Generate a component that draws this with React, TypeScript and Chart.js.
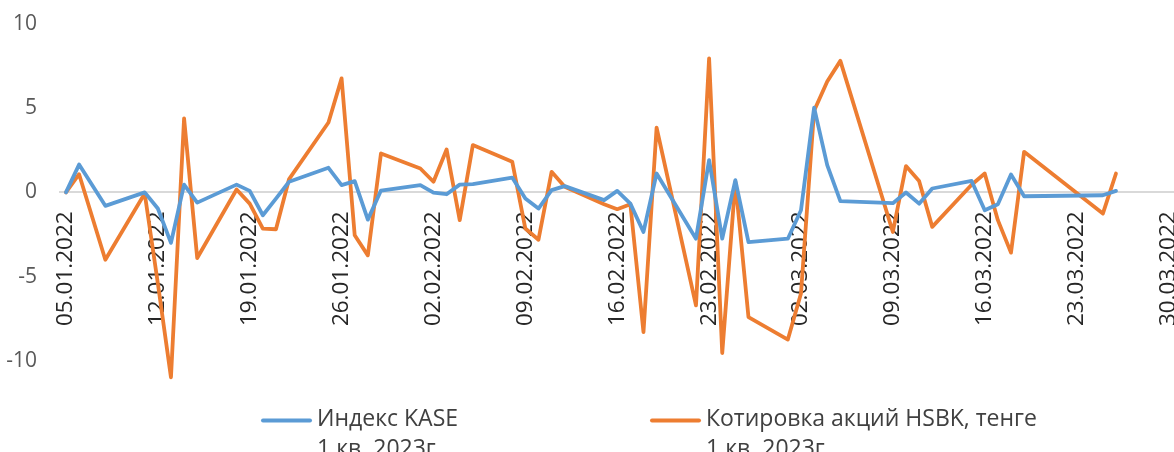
import { useEffect, useRef } from "react";
import { Chart, registerables } from "chart.js";

Chart.register(...registerables);

// Trading dates (dd.mm.yyyy as shown on the date axis)
const dates = [
  "05.01.2022", "06.01.2022", "08.01.2022", "11.01.2022", "12.01.2022", "13.01.2022",
  "14.01.2022", "15.01.2022", "18.01.2022", "19.01.2022", "20.01.2022", "21.01.2022",
  "22.01.2022", "25.01.2022", "26.01.2022", "27.01.2022", "28.01.2022", "29.01.2022",
  "01.02.2022", "02.02.2022", "03.02.2022", "04.02.2022", "05.02.2022", "08.02.2022",
  "09.02.2022", "10.02.2022", "11.02.2022", "12.02.2022", "15.02.2022", "16.02.2022",
  "17.02.2022", "18.02.2022", "19.02.2022", "22.02.2022", "23.02.2022", "24.02.2022",
  "25.02.2022", "26.02.2022", "01.03.2022", "02.03.2022", "03.03.2022", "04.03.2022",
  "05.03.2022", "09.03.2022", "10.03.2022", "11.03.2022", "12.03.2022", "15.03.2022",
  "16.03.2022", "17.03.2022", "18.03.2022", "19.03.2022", "25.03.2022", "26.03.2022",
];

// Индекс KASE, % change
const kaseValues = [
  0, 1.65, -0.8, 0, -0.96, -3.0,
  0.46, -0.61, 0.46, 0.09, -1.36, -0.37,
  0.63, 1.46, 0.43, 0.67, -1.62, 0.11,
  0.43, -0.01, -0.11, 0.46, 0.49, 0.88,
  -0.37, -0.96, 0.13, 0.37, -0.46, 0.09,
  -0.67, -2.35, 1.12, -2.75, 1.92, -2.75,
  0.73, -2.95, -2.75, -1.06, 5.03, 1.62,
  -0.52, -0.64, -0.01, -0.67, 0.23, 0.68,
  -1.06, -0.7, 1.06, -0.23, -0.17, 0.09,
];

// Котировка акций HSBK, % change
const hsbkValues = [
  0, 1.08, -4.0, -0.07, -5.4, -10.98,
  4.39, -3.9, 0.17, -0.67, -2.15, -2.19,
  0.79, 4.15, 6.77, -2.55, -3.74, 2.31,
  1.42, 0.63, 2.55, -1.65, 2.81, 1.82,
  -2.15, -2.81, 1.22, 0.33, -0.7, -1.0,
  -0.7, -8.3, 3.84, -6.71, 7.96, -9.54,
  0.63, -7.41, -8.74, -6.0, 4.85, 6.58,
  7.81, -2.35, 1.56, 0.68, -2.05, 0.45,
  1.12, -1.65, -3.58, 2.41, -1.26, 1.12,
];

const tickLabels = [
  "05.01.2022", "12.01.2022", "19.01.2022", "26.01.2022", "02.02.2022",
  "09.02.2022", "16.02.2022", "23.02.2022", "02.03.2022", "09.03.2022",
  "16.03.2022", "23.03.2022", "30.03.2022",
];

const seriesNames = [
  ["Индекс KASE", "1 кв. 2023г"],
  ["Котировка акций HSBK, тенге", "1 кв. 2023г."],
];
const seriesColors = ["#5B9BD5", "#ED7D31"];

const BASE = Date.UTC(2022, 0, 5);
function dayOffset(s: string): number {
  const [d, m, y] = s.split(".").map(Number);
  return Math.round((Date.UTC(y, m - 1, d) - BASE) / 86400000);
}

const FONT = "'Open Sans', 'DejaVu Sans', sans-serif";

const legendPlugin = {
  id: "bottomLegend",
  afterDraw(chart: any) {
    const ctx = chart.ctx as CanvasRenderingContext2D;
    const starts = [261, 650];
    ctx.save();
    chart.data.datasets.forEach((ds: any, i: number) => {
      const x0 = starts[i];
      ctx.strokeStyle = ds.borderColor;
      ctx.lineWidth = 4;
      ctx.lineCap = "round";
      ctx.beginPath();
      ctx.moveTo(x0 + 2, 420.5);
      ctx.lineTo(x0 + 49, 420.5);
      ctx.stroke();
      ctx.fillStyle = "#404040";
      ctx.font = `23px ${FONT}`;
      ctx.textAlign = "left";
      ctx.textBaseline = "alphabetic";
      (ds.legendLines as string[]).forEach((line, j) => {
        ctx.fillText(line, x0 + 56, 425.5 + j * 30);
      });
    });
    ctx.restore();
  },
};

export default function App() {
  const ref = useRef<HTMLCanvasElement | null>(null);

  useEffect(() => {
    if (!ref.current) return;
    const mk = (vals: number[]) => dates.map((d, i) => ({ x: dayOffset(d), y: vals[i] }));
    const lineStyle = {
      borderWidth: 3.8,
      pointRadius: 0,
      tension: 0,
      borderCapStyle: "round",
      borderJoinStyle: "round",
    };
    const chart = new Chart(ref.current, {
      type: "line",
      data: {
        datasets: [
          {
            label: seriesNames[0].join(" "),
            legendLines: seriesNames[0],
            data: mk(kaseValues),
            borderColor: seriesColors[0],
            backgroundColor: seriesColors[0],
            ...lineStyle,
          } as any,
          {
            label: seriesNames[1].join(" "),
            legendLines: seriesNames[1],
            data: mk(hsbkValues),
            borderColor: seriesColors[1],
            backgroundColor: seriesColors[1],
            ...lineStyle,
          } as any,
        ],
      },
      options: {
        animation: false,
        responsive: true,
        maintainAspectRatio: false,
        layout: { padding: { top: 24, bottom: 66, left: 0, right: 0 } },
        plugins: { legend: { display: false }, tooltip: { enabled: false } },
        scales: {
          x: {
            type: "linear",
            position: { y: 0 } as any,
            min: -0.53,
            max: 84.42,
            grid: { display: false },
            border: { display: false },
            afterBuildTicks: (s: any) => {
              s.ticks = tickLabels.map((t) => ({ value: dayOffset(t) }));
            },
            afterFit: (s: any) => {
              s.height = 0;
              s.paddingLeft = 0;
              s.paddingRight = 0;
            },
            ticks: {
              autoSkip: false,
              maxRotation: 90,
              minRotation: 90,
              padding: 11,
              color: "#262626",
              font: { family: FONT, size: 22.5 },
              callback: (_v: any, i: number) => tickLabels[i],
            },
          },
          y: {
            min: -11.5,
            max: 10,
            afterFit: (s: any) => {
              s.width = 59;
              s.paddingTop = 0;
              s.paddingBottom = 0;
            },
            border: { display: false },
            grid: {
              drawTicks: false,
              lineWidth: 2,
              color: (c: any) => (c.tick && c.tick.value === 0 ? "#d9d9d9" : "rgba(0,0,0,0)"),
            },
            ticks: {
              stepSize: 5,
              includeBounds: false,
              padding: 22,
              color: "#595959",
              font: { family: FONT, size: 21 },
            },
          },
        },
      },
      plugins: [legendPlugin],
    });
    return () => chart.destroy();
  }, []);

  return (
    <div style={{ position: "fixed", left: 0, top: 0, width: 1174, height: 452, background: "#fff" }}>
      <canvas ref={ref} />
    </div>
  );
}
